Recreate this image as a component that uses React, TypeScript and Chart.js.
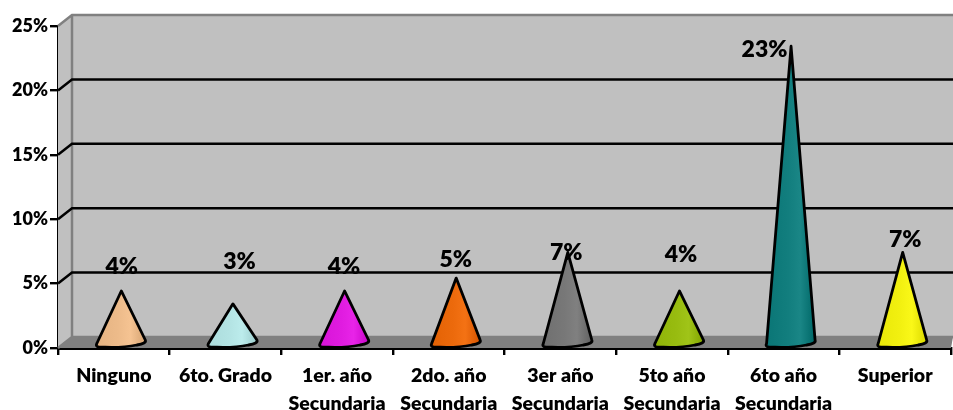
import React, { useEffect, useRef } from "react";
import { Chart, registerables } from "chart.js";

Chart.register(...registerables);

const categories: (string | string[])[] = [
  "Ninguno",
  "6to. Grado",
  ["1er. año", "Secundaria"],
  ["2do. año", "Secundaria"],
  ["3er año", "Secundaria"],
  ["5to año", "Secundaria"],
  ["6to año", "Secundaria"],
  "Superior",
];
const values = [4, 3, 4, 5, 7, 4, 23, 7];
const coneColors = ["#EDBB8A", "#B4E4E4", "#E01CE0", "#EC6A0C", "#787878", "#98BC10", "#127E7E", "#F2F010"];
const yTicks = [0, 5, 10, 15, 20, 25];

const FONT = "Lato, 'Open Sans', sans-serif";
const DEPTH_X = 14;
const DEPTH_Y = 11;
const labelNudge = [[8, -30], [14, -48], [7, -30], [7, -24], [6, -5], [9, -42], [-19, -2], [10, -18]];

function shade(hex: string, amt: number) {
  const n = parseInt(hex.slice(1), 16);
  const f = (c: number) => Math.max(0, Math.min(255, Math.round(c + amt)));
  return `rgb(${f((n >> 16) & 255)},${f((n >> 8) & 255)},${f(n & 255)})`;
}

const wallsPlugin = {
  id: "walls",
  beforeDatasetsDraw(chart: any) {
    const { ctx, chartArea: a, scales } = chart;
    const y = scales.y;
    const bottom = y.getPixelForValue(0);
    const top = y.getPixelForValue(25);
    const backL = a.left + DEPTH_X;
    const backR = a.right + 2;
    ctx.save();
    ctx.fillStyle = "#C0C0C0";
    ctx.beginPath();
    ctx.rect(backL, top - DEPTH_Y, backR - backL, bottom - top);
    ctx.moveTo(a.left, top);
    ctx.lineTo(backL, top - DEPTH_Y);
    ctx.lineTo(backL, bottom - DEPTH_Y);
    ctx.lineTo(a.left, bottom);
    ctx.closePath();
    ctx.fill();
    ctx.fillStyle = "#808080";
    ctx.beginPath();
    ctx.moveTo(a.left, bottom);
    ctx.lineTo(backL, bottom - DEPTH_Y);
    ctx.lineTo(backR, bottom - DEPTH_Y);
    ctx.lineTo(a.right, bottom);
    ctx.closePath();
    ctx.fill();
    ctx.strokeStyle = "#808080";
    ctx.lineWidth = 2.5;
    ctx.beginPath();
    ctx.moveTo(a.left, top);
    ctx.lineTo(backL, top - DEPTH_Y);
    ctx.lineTo(backR, top - DEPTH_Y);
    ctx.moveTo(backL, top - DEPTH_Y);
    ctx.lineTo(backL, bottom - DEPTH_Y);
    ctx.lineTo(a.left, bottom);
    ctx.moveTo(backL, bottom - DEPTH_Y);
    ctx.lineTo(backR, bottom - DEPTH_Y);
    ctx.stroke();
    ctx.strokeStyle = "#000";
    ctx.lineWidth = 2.5;
    ctx.beginPath();
    for (const t of yTicks) {
      if (t === 0 || t === 25) continue;
      const py = y.getPixelForValue(t);
      ctx.moveTo(a.left, py);
      ctx.lineTo(backL, py - DEPTH_Y);
      ctx.lineTo(backR, py - DEPTH_Y);
    }
    ctx.stroke();
    ctx.restore();
  },
  beforeDatasetDraw() {
    return false;
  },
  afterDatasetsDraw(chart: any) {
    const { ctx, scales } = chart;
    const meta = chart.getDatasetMeta(0);
    const baseY = scales.y.getPixelForValue(0) - DEPTH_Y / 2;
    meta.data.forEach((bar: any, i: number) => {
      const cx = bar.x + DEPTH_X / 2;
      const apexY = bar.y - DEPTH_Y / 2;
      const hw = 24;
      const color = coneColors[i];
      ctx.save();
      const g = ctx.createLinearGradient(cx - hw, 0, cx + hw, 0);
      g.addColorStop(0, shade(color, -8));
      g.addColorStop(0.45, color);
      g.addColorStop(0.7, shade(color, 8));
      g.addColorStop(1, shade(color, -22));
      ctx.beginPath();
      ctx.moveTo(cx + 0.5, apexY);
      ctx.lineTo(cx + hw + 0.5, baseY - 2.5);
      ctx.quadraticCurveTo(cx + hw + 2, baseY + 1, cx + hw - 8, baseY + 2.5);
      ctx.quadraticCurveTo(cx, baseY + 6, cx - hw + 2, baseY + 4.5);
      ctx.quadraticCurveTo(cx - hw - 1.5, baseY + 4, cx - hw, baseY + 1);
      ctx.closePath();
      ctx.fillStyle = g;
      ctx.fill();
      ctx.strokeStyle = "#000";
      ctx.lineWidth = 2.8;
      ctx.lineJoin = "round";
      ctx.stroke();
      ctx.fillStyle = "#000";
      ctx.font = `800 23px ${FONT}`;
      ctx.textAlign = "center";
      ctx.textBaseline = "middle";
      const [nx, ny] = labelNudge[i];
      ctx.fillText(`${values[i]}%`, bar.x + nx, bar.y + ny);
      ctx.restore();
    });
  },
};

export default function App() {
  const ref = useRef<HTMLCanvasElement>(null);
  useEffect(() => {
    const chart = new Chart(ref.current!, {
      type: "bar",
      data: {
        labels: categories as any,
        datasets: [{ data: values, backgroundColor: coneColors, borderWidth: 0 }],
      },
      options: {
        animation: false,
        responsive: false,
        devicePixelRatio: 1,
        layout: { padding: { left: 0, right: 2, top: 26, bottom: 0 } },
        plugins: { legend: { display: false }, tooltip: { enabled: false } },
        scales: {
          x: {
            offset: true,
            afterFit: (s: any) => { s.height = 62; },
            grid: { drawOnChartArea: false, color: "#000", lineWidth: 2.4, tickLength: 7 },
            border: { display: true, color: "#000", width: 3 },
            ticks: {
              color: "#000",
              maxRotation: 0,
              autoSkip: false,
              padding: 6,
              font: { family: FONT, weight: "800", size: 19.5, lineHeight: 1.47 },
            },
          },
          y: {
            min: 0,
            max: 25,
            afterFit: (s: any) => { s.width = 58; },
            afterBuildTicks: (s: any) => { s.ticks = yTicks.map((v) => ({ value: v })); },
            grid: { drawOnChartArea: false, color: "#000", lineWidth: 2.4, tickLength: 8 },
            border: { display: true, color: "#000", width: 3 },
            ticks: {
              color: "#000",
              padding: 2,
              font: { family: FONT, weight: "800", size: 18 },
              callback: (v: any) => `${v}%`,
            },
          },
        },
      },
      plugins: [wallsPlugin],
    } as any);
    return () => chart.destroy();
  }, []);
  return (
    <div style={{ position: "fixed", left: 0, top: 0, width: 953, height: 410, background: "#fff" }}>
      <canvas ref={ref} width={953} height={410} style={{ display: "block", width: 953, height: 410 }} />
    </div>
  );
}
